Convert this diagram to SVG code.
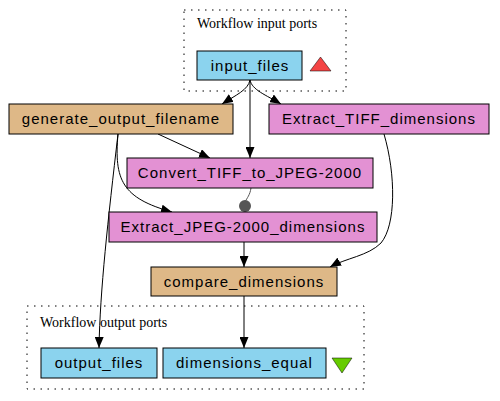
<svg xmlns="http://www.w3.org/2000/svg" width="500" height="401" viewBox="0 0 500 401">
<defs>
<style>
.cl{fill:none;stroke:#000;stroke-width:1;stroke-dasharray:1.5,5.5}
.ct{font-family:"Liberation Serif",serif;font-size:14px;fill:#000}
.port rect{fill:#8bd3ee;stroke:#000;stroke-width:1}
.bean rect{fill:#deb887;stroke:#000;stroke-width:1}
.tool rect{fill:#e391d3;stroke:#000;stroke-width:1}
.n text{font-family:"Liberation Sans",Arial,sans-serif;font-size:15px;letter-spacing:1px;text-anchor:middle;fill:#000}
.e{fill:none;stroke:#000;stroke-width:1;marker-end:url(#ah)}
</style>
<marker id="ah" markerUnits="userSpaceOnUse" markerWidth="11" markerHeight="9" refX="11" refY="4.5" orient="auto" viewBox="0 0 11 9">
<path d="M0,0 L11,4.5 L0,9 z" fill="#000"/>
</marker>
</defs>
<rect width="500" height="401" fill="#fff"/>
<g id="cluster_inputs">
<rect class="cl" x="184" y="10" width="162" height="81"/>
<text class="ct" x="197" y="28">Workflow input ports</text>
<polygon points="310,71 331,71 320.5,57" fill="#f44444" stroke="#000" stroke-width="0.5"/>
</g>
<g id="cluster_outputs">
<rect class="cl" x="27" y="306" width="337" height="83"/>
<text class="ct" x="40" y="327">Workflow output ports</text>
<polygon points="332,358 352,358 342,373" fill="#66cc00" stroke="#000" stroke-width="0.5"/>
</g>
<g id="connectors">
<path class="e" d="M250,80 C248,90 236,95 222,104"/>
<path class="e" d="M250,80 L250,158"/>
<path class="e" d="M250,80 C252,90 266,95 281,104"/>
<path class="e" d="M158,134 L210,158"/>
<path class="e" d="M118,134 C114,180 122,198 172,212"/>
<path class="e" d="M118,134 C108,220 100,290 99,348"/>
<path d="M251,188 C250,195 247,198 245,202" fill="none" stroke="#555" stroke-width="1"/>
<circle cx="245" cy="206" r="6" fill="#555"/>
<path class="e" d="M244,242 L244,267"/>
<path class="e" d="M384,134 C396,175 396,225 381,243 C368,256 346,258 330,267"/>
<path class="e" d="M244,296 L244,348"/>
</g>
<g id="input_files" class="n port"><rect x="197" y="51" width="105" height="29"/><text x="250" y="71">input_files</text></g>
<g id="generate_output_filename" class="n bean"><rect x="9" y="104" width="224" height="30"/><text x="121" y="124">generate_output_filename</text></g>
<g id="Extract_TIFF_dimensions" class="n tool"><rect x="269" y="104" width="220" height="30"/><text x="379" y="124">Extract_TIFF_dimensions</text></g>
<g id="Convert_TIFF_to_JPEG-2000" class="n tool"><rect x="127" y="158" width="246" height="30"/><text x="250" y="178">Convert_TIFF_to_JPEG-2000</text></g>
<g id="Extract_JPEG-2000_dimensions" class="n tool"><rect x="109" y="212" width="268" height="30"/><text x="243" y="232">Extract_JPEG-2000_dimensions</text></g>
<g id="compare_dimensions" class="n bean"><rect x="151" y="267" width="186" height="29"/><text x="244" y="287">compare_dimensions</text></g>
<g id="output_files" class="n port"><rect x="41" y="348" width="116" height="30"/><text x="99" y="368">output_files</text></g>
<g id="dimensions_equal" class="n port"><rect x="163" y="348" width="163" height="30"/><text x="244.5" y="368">dimensions_equal</text></g>
</svg>
